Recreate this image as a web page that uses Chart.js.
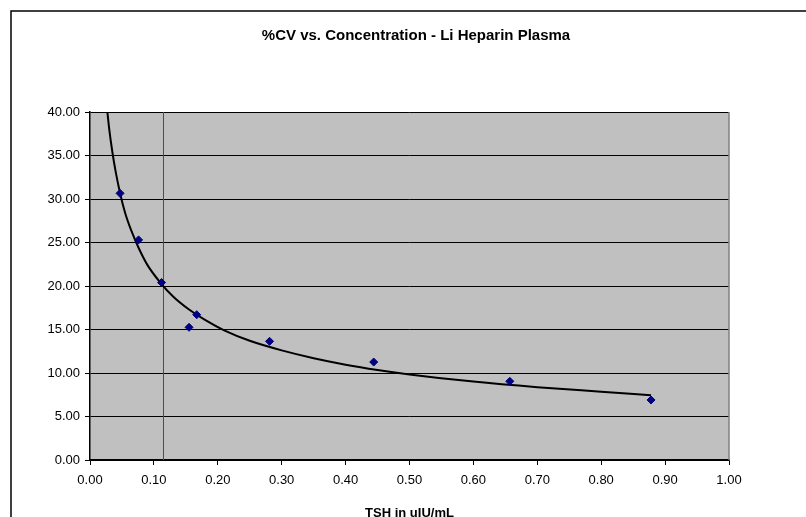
<!DOCTYPE html>
<html>
<head>
<meta charset="utf-8">
<script src="https://cdn.jsdelivr.net/npm/chart.js@4/dist/chart.umd.min.js"></script>
<style>
html,body{margin:0;padding:0;background:#fff;}
#wrap{width:806px;height:517px;position:relative;}
</style>
</head>
<body>
<div id="wrap"><canvas id="c" width="806" height="517"></canvas></div>
<script>
const titleText = '%CV vs. Concentration - Li Heparin Plasma';
const xAxisTitle = 'TSH in uIU/mL';
// measured %CV points
const cvX = [0.047, 0.076, 0.112, 0.155, 0.167, 0.281, 0.444, 0.657, 0.878];
const cvY = [30.65, 25.3, 20.4, 15.25, 16.7, 13.64, 11.26, 9.04, 6.9];
// power trend line
const trendX = [0.0272, 0.03, 0.035, 0.04, 0.047, 0.055, 0.065, 0.076, 0.09, 0.11, 0.13, 0.155, 0.18, 0.21, 0.25, 0.3, 0.35, 0.4, 0.45, 0.5, 0.6, 0.7, 0.8, 0.878];
const trendY = [40.0, 38.1, 35.4, 33.2, 30.7, 28.4, 26.3, 24.4, 22.4, 20.4, 18.8, 17.3, 16.1, 14.9, 13.7, 12.6, 11.7, 10.96, 10.35, 9.84, 9.01, 8.37, 7.85, 7.45];
// vertical reference line
const refX = [0.115, 0.115];
const refY = [0, 40];

const FONT = 'Liberation Sans, Arial, sans-serif';

const bgPlugin = {
  id: 'bg',
  beforeDraw(chart) {
    const ctx = chart.ctx, a = chart.chartArea;
    ctx.save();
    ctx.fillStyle = '#ffffff';
    ctx.fillRect(0, 0, chart.width, chart.height);
    ctx.strokeStyle = '#000000';
    ctx.lineWidth = 1.5;
    ctx.strokeRect(11, 11, chart.width + 20, chart.height + 20);
    ctx.fillStyle = '#C0C0C0';
    ctx.fillRect(a.left, a.top, a.right - a.left, a.bottom - a.top);
    // chart title
    ctx.fillStyle = '#000';
    ctx.font = 'bold 15px ' + FONT;
    ctx.textAlign = 'center';
    ctx.textBaseline = 'middle';
    ctx.fillText(titleText, 416, 36);
    ctx.restore();
  },
  afterDatasetsDraw(chart) {
    const ctx = chart.ctx, a = chart.chartArea;
    ctx.save();
    ctx.strokeStyle = '#808080';
    ctx.lineWidth = 1.5;
    ctx.beginPath();
    ctx.moveTo(a.right, a.top);
    ctx.lineTo(a.right, a.bottom);
    ctx.stroke();
    ctx.restore();
  }
};

new Chart(document.getElementById('c'), {
  type: 'scatter',
  data: {
    datasets: [
      {
        label: 'ref',
        data: refX.map((x, i) => ({x, y: refY[i]})),
        showLine: true,
        borderColor: '#FF0000',
        borderWidth: 1,
        pointRadius: 0,
        order: 3
      },
      {
        label: 'Power trend',
        data: trendX.map((x, i) => ({x, y: trendY[i]})),
        showLine: true,
        borderColor: '#000000',
        borderWidth: 2,
        pointRadius: 0,
        cubicInterpolationMode: 'monotone',
        order: 2
      },
      {
        label: '%CV',
        data: cvX.map((x, i) => ({x, y: cvY[i]})),
        pointStyle: 'rectRot',
        pointRadius: 4,
        backgroundColor: '#000080',
        borderColor: '#000080',
        borderWidth: 1,
        order: 1
      }
    ]
  },
  options: {
    responsive: false,
    animation: false,
    events: [],
    layout: { padding: { left: 0, right: 77, top: 112, bottom: 0 } },
    plugins: {
      legend: { display: false },
      tooltip: { enabled: false },
      title: { display: false }
    },
    scales: {
      x: {
        type: 'linear',
        min: 0, max: 1,
        afterFit(s) { s.height = 57; },
        border: { color: '#000', width: 1.5 },
        grid: { display: true, drawOnChartArea: false, drawTicks: true, tickLength: 5, color: '#000' },
        ticks: { stepSize: 0.1, color: '#000', font: { family: FONT, size: 13 }, padding: 8, maxRotation: 0,
          callback: v => Number(v).toFixed(2) },
        title: { display: true, text: xAxisTitle, color: '#000', font: { family: FONT, size: 13, weight: 'bold' }, padding: { top: 0, bottom: -4 } }
      },
      y: {
        type: 'linear',
        min: 0, max: 40,
        afterFit(s) { s.width = 90; },
        border: { color: '#000', width: 1.5 },
        grid: { display: true, drawOnChartArea: true, drawTicks: true, tickLength: 5, color: '#000', lineWidth: 1 },
        ticks: { stepSize: 5, color: '#000', font: { family: FONT, size: 13 }, padding: 5,
          callback: v => Number(v).toFixed(2) }
      }
    }
  },
  plugins: [bgPlugin]
});
</script>
</body>
</html>
